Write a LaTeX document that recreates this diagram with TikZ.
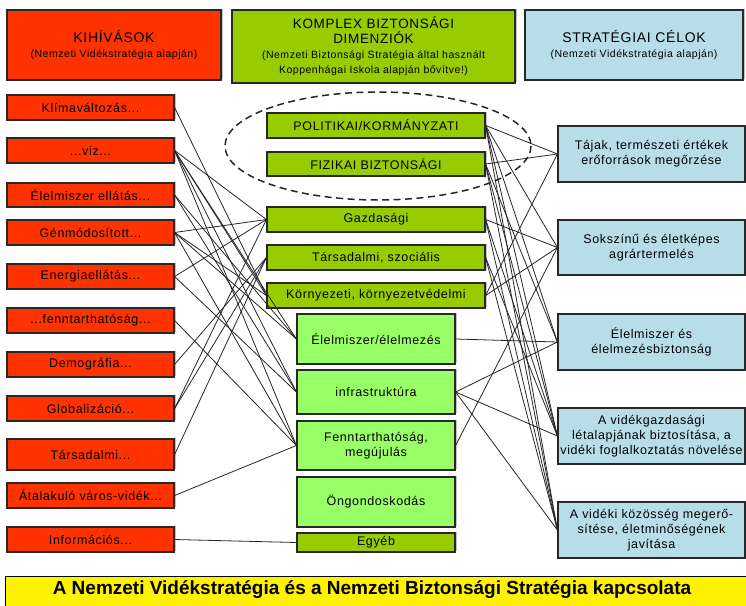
\documentclass[tikz,border=0pt]{standalone}
\usepackage{fontspec}
\setmainfont{Liberation Sans}
\newfontfamily\widefont{Liberation Sans}[LetterSpace=5]
\usetikzlibrary{shadows}

\definecolor{challengered}{RGB}{255,51,0}
\definecolor{dimolive}{RGB}{153,204,0}
\definecolor{dimlight}{RGB}{153,255,102}
\definecolor{goalblue}{RGB}{183,221,232}
\definecolor{boxline}{RGB}{40,40,40}

\tikzset{every picture/.style={line width=0.75pt}}
\tikzset{
  box/.style={draw=boxline, line width=1.2pt, inner sep=0pt, align=center,
    font=\widefont\fontsize{12.5}{15}\selectfont,
    drop shadow={shadow xshift=1.5pt, shadow yshift=1.5pt, fill=black!40, opacity=.6}},
  challenge/.style={box, fill=challengered, minimum width=167pt},
  dimension/.style={box, fill=dimolive, minimum width=218pt},
  dimensionlight/.style={box, fill=dimlight, minimum width=158pt},
  goal/.style={box, fill=goalblue, minimum width=187pt, minimum height=56pt},
  headbox/.style={box, minimum height=70pt},
  link/.style={draw=black!85, line width=0.8pt},
}
\newcommand{\headtitle}{\fontsize{13.5}{20}\selectfont}
\newcommand{\headsub}{\fontsize{10.5}{12.5}\selectfont}

\begin{document}
\begin{tikzpicture}[x=1pt,y=1pt,yscale=-1,xscale=1]
\useasboundingbox (0,0) rectangle (746,605);

%Shape: Header boxes
\node[headbox, fill=challengered, minimum width=214pt] (hchallenge) at (114,45)
  {\fontsize{14}{18}\selectfont KIHÍVÁSOK\\\headsub (Nemzeti Vidékstratégia alapján)};
\node[headbox, fill=dimolive, minimum width=283pt, minimum height=73pt] (hdimension) at (373.5,46.5)
  {\headtitle KOMPLEX BIZTONSÁGI\\\headtitle DIMENZIÓK\\\headsub (Nemzeti Biztonsági Stratégia által használt\\\headsub Koppenhágai Iskola alapján bővítve!)};
\node[headbox, fill=goalblue, minimum width=218pt] (hgoal) at (634,45)
  {\fontsize{14}{18}\selectfont STRATÉGIAI CÉLOK\\\headsub (Nemzeti Vidékstratégia alapján)};

%Shape: Challenges (left column)
\node[challenge, minimum height=25pt] (L1) at (90.5,107.5) {Klímaváltozás...};
\node[challenge, minimum height=25pt] (L2) at (90.5,150.5) {...viz...};
\node[challenge, minimum height=24pt] (L3) at (90.5,195) {Élelmiszer ellátás...};
\node[challenge, minimum height=25pt] (L4) at (90.5,232.5) {Génmódosított...};
\node[challenge, minimum height=25pt] (L5) at (90.5,276.5) {Energiaellátás...};
\node[challenge, minimum height=25pt] (L6) at (90.5,320.5) {...fenntarthatóság...};
\node[challenge, minimum height=25pt] (L7) at (90.5,364.5) {Demográfia...};
\node[challenge, minimum height=25pt] (L8) at (90.5,408.5) {Globalizáció...};
\node[challenge, minimum height=31pt] (L9) at (90.5,454.5) {Társadalmi...};
\node[challenge, minimum height=25pt] (L10) at (90.5,495.5) {Átalakuló város-vidék...};
\node[challenge, minimum height=25pt] (L11) at (90.5,539.5) {Információs...};

%Shape: Dashed ellipse
\draw[dashed, dash pattern=on 7pt off 4.5pt, line width=1.5pt, black!85] (378,146) ellipse (153 and 54);

%Shape: Security dimensions (middle column)
\node[dimension, minimum height=25pt] (M1) at (376,125.5) {POLITIKAI/KORMÁNYZATI};
\node[dimension, minimum height=24pt] (M2) at (376,164) {FIZIKAI BIZTONSÁGI};
\node[dimension, minimum height=25pt] (M3) at (376,219.5) {Gazdasági};
\node[dimension, minimum height=25pt] (M4) at (376,257.5) {Társadalmi, szociális};
\node[dimension, minimum height=25pt] (M5) at (376,295.5) {Környezeti, környezetvédelmi};
\node[dimensionlight, minimum height=50pt] (M6) at (376,339) {Élelmiszer/élelmezés};
\node[dimensionlight, minimum height=44pt] (M7) at (376,392) {infrastruktúra};
\node[dimensionlight, minimum height=49pt] (M8) at (376,445.5) {Fenntarthatóság,\\megújulás};
\node[dimensionlight, minimum height=50pt] (M9) at (376,502) {Öngondoskodás};
\node[box, fill=dimolive, minimum width=158pt, minimum height=19pt] (M10) at (376,542.5) {Egyéb};

%Shape: Strategic goals (right column)
\node[goal] (R1) at (651.5,154) {Tájak, természeti értékek\\erőforrások megőrzése};
\node[goal, minimum height=55pt] (R2) at (651.5,247.5) {Sokszínű és életképes\\agrártermelés};
\node[goal] (R3) at (651.5,342) {Élelmiszer és\\élelmezésbiztonság};
\node[goal] (R4) at (651.5,436) {A vidékgazdasági\\létalapjának biztosítása, a\\vidéki foglalkoztatás növelése};
\node[goal] (R5) at (651.5,530) {A vidéki közösség megerő-\\sítése, életminőségének\\javítása};

%Straight Lines: challenges -> dimensions
\foreach \a/\b in {L1/M5, L2/M3, L2/M5, L2/M6, L2/M7, L2/M8, L3/M6, L3/M7,
                   L4/M3, L4/M5, L4/M6, L4/M8, L5/M3, L5/M7, L6/M8, L7/M4,
                   L8/M3, L8/M4, L9/M4, L10/M8, L11/M10}
  \draw[link] (\a.east) -- (\b.west);

%Straight Lines: dimensions -> goals
\foreach \a/\b in {M1/R1, M1/R2, M1/R3, M1/R4, M1/R5, M2/R1, M2/R3, M2/R4, M2/R5,
                   M3/R2, M3/R4, M3/R5, M4/R4, M4/R5, M5/R1, M5/R2,
                   M6/R3, M7/R3, M7/R4, M7/R5, M8/R2}
  \draw[link] (\a.east) -- (\b.west);

%Shape: Title banner
\node[draw=black, line width=1.2pt, fill=yellow, minimum width=745pt, minimum height=32pt,
  inner sep=0pt, anchor=north west] (banner) at (5,576) {};
\node[font=\bfseries\fontsize{19}{21}\selectfont] (bannertext) at (372,590)
  {A Nemzeti Vidékstratégia és a Nemzeti Biztonsági Stratégia kapcsolata};

\end{tikzpicture}
\end{document}
